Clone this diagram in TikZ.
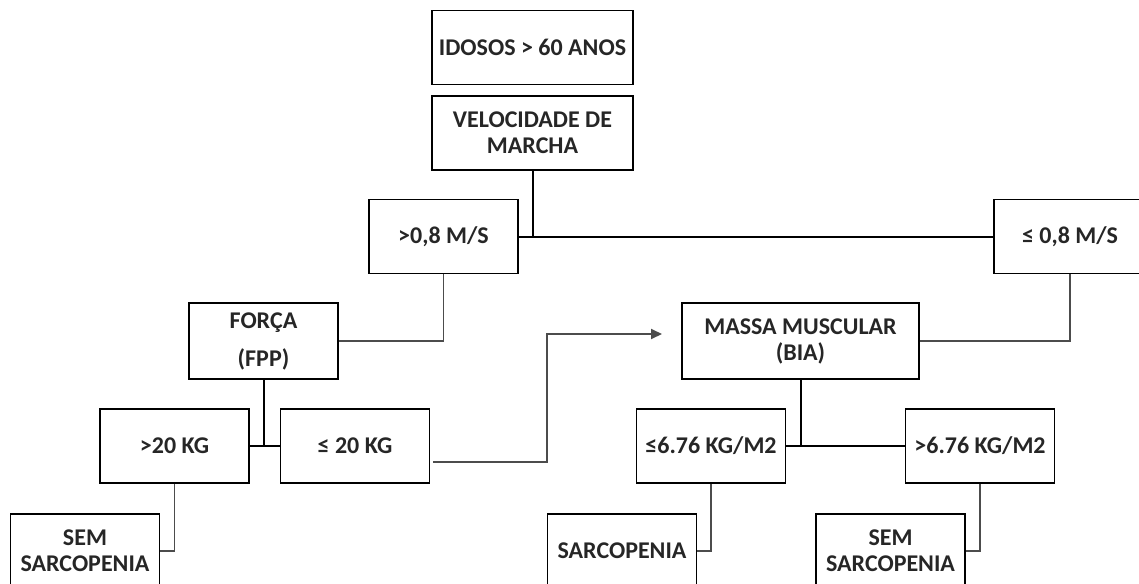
\documentclass[tikz,border=0pt]{standalone}
\usepackage{fontspec}
\setmainfont{Carlito}
\usetikzlibrary{arrows.meta, positioning}

\begin{document}
\begin{tikzpicture}[
  x=0.5pt, y=-0.5pt,
  caixa/.style={rectangle, draw=black, line width=0.75pt, text=black!85,
                minimum width=74.5pt, minimum height=37pt, inner sep=2pt,
                font=\bfseries\fontsize{12}{13}\selectfont, align=center},
  caixalarga/.style={caixa, minimum width=100.5pt},
  liga/.style={line width=1pt, color=black},
  ligafina/.style={line width=0.9pt, color=black!70},
  arr/.style={ligafina, -{Triangle[length=5.5pt, width=5pt]}}
]
  \useasboundingbox (0,0) rectangle (1139,583);
  % Topo
  \node[caixalarga] (idosos) at (532.5,47.5) {IDOSOS > 60 ANOS};
  \node[caixalarga, below=5pt of idosos] (marcha) {VELOCIDADE DE\\MARCHA};
  % Velocidade
  \node[caixa] (rapida) at (443.5,236.5) {>0,8 M/S};
  \node[caixa, minimum width=76pt] (lenta) at (1070,236.5) {≤ 0,8 M/S};
  % Forca e massa
  \node[caixa, minimum height=38pt] (forca) at (263.5,341) {FORÇA\\[6pt](FPP)};
  \node[caixa, minimum width=118.5pt, minimum height=38pt] (massa) at (800.5,341) {MASSA MUSCULAR\\(BIA)};
  % Pontos de corte
  \node[caixa] (forte) at (174.5,446) {>20 KG};
  \node[caixa, right=15pt of forte] (fraca) {≤ 20 KG};
  \node[caixa] (baixa) at (711,446) {≤6.76 KG/M2};
  \node[caixa] (alta) at (980,446) {>6.76 KG/M2};
  % Resultados
  \node[caixa] (semA) at (85,551) {SEM\\SARCOPENIA};
  \node[caixa] (sarc) at (622,551) {SARCOPENIA};
  \node[caixa] (semB) at (890.5,551) {SEM\\SARCOPENIA};

  % Ligacoes
  \draw[liga] (marcha.south) -- (marcha.south |- rapida.east);
  \draw[liga] (rapida.east) -- (lenta.west);
  \draw[ligafina] (rapida.south) |- (forca.east);
  \draw[ligafina] (lenta.south) |- (massa.east);
  \draw[liga] (forca.south) -- (forca.south |- forte.east);
  \draw[liga] (forte.east) -- (fraca.west);
  \draw[liga] (massa.south) -- (massa.south |- baixa.east);
  \draw[liga] (baixa.east) -- (alta.west);
  \coordinate (quebra) at (547,334);
  \coordinate (seta) at (662,334);
  \draw[arr] ([shift={(3,16)}]fraca.east) -| (quebra) -- (seta);
  \draw[ligafina] (forte.south) |- (semA.east);
  \draw[ligafina] (baixa.south) |- (sarc.east);
  \draw[ligafina] (alta.south) |- (semB.east);
\end{tikzpicture}
\end{document}
